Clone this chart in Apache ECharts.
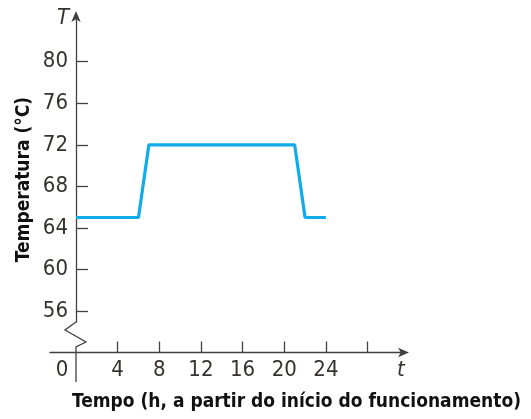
<!DOCTYPE html>
<html><head><meta charset="utf-8">
<script src="https://cdn.jsdelivr.net/npm/echarts@6/dist/echarts.min.js"></script>
<style>html,body{margin:0;padding:0;background:#fff}#c{width:531px;height:419px}</style>
</head><body><div id="c"></div>
<script>
const timeHours = [0, 6, 7, 21, 22, 24];
const temperature = [65, 65, 72, 72, 65, 65];
const xTickValues = [4, 8, 12, 16, 20, 24, 28];
const xLabelValues = [0, 4, 8, 12, 16, 20, 24];
const yTickValues = [56, 60, 64, 68, 72, 76, 80];
const xTitle = 'Tempo (h, a partir do início do funcionamento)';
const yTitle = 'Temperatura (°C)';

const FONT = '"DejaVu Sans Condensed", "Liberation Sans Narrow", sans-serif';
const chart = echarts.init(document.getElementById('c'), null, {renderer: 'canvas'});
const axisColor = '#404040';
const labelColor = '#36322e';

chart.setOption({
  animation: false,
  grid: {left: 50, right: 126, top: 15, bottom: 97, containLabel: false, outerBoundsMode: 'none'},
  xAxis: {
    type: 'value', min: -2.5, max: 31.6,
    axisLine: {onZero: false, lineStyle: {color: axisColor, width: 1.3}, symbol: ['none', 'arrow'], symbolSize: [7, 11], symbolOffset: [0, 4]},
    offset: 30.5,
    splitLine: {show: false},
    axisTick: {inside: true, length: 11, customValues: xTickValues, lineStyle: {color: axisColor, width: 1.3}},
    axisLabel: {
      customValues: xLabelValues, margin: 7, color: labelColor, fontFamily: FONT, fontSize: 22,
      formatter: v => v === 0 ? '{z|0}' : String(v),
      rich: {z: {padding: [0, 28, 0, 0], color: labelColor, fontFamily: FONT, fontSize: 22}}
    },
    name: xTitle, nameLocation: 'middle', nameGap: 40, nameMoveOverlap: false,
    nameTextStyle: {fontFamily: FONT, fontSize: 19, fontWeight: 'bold', color: '#111', padding: [0, 0, 0, 138]}
  },
  yAxis: {
    type: 'value', min: 54.94, max: 84.5,
    offset: -26,
    axisLine: {onZero: false, lineStyle: {color: axisColor, width: 1.3}, symbol: ['none', 'arrow'], symbolSize: [7, 11], symbolOffset: [0, 4]},
    splitLine: {show: false},
    axisTick: {inside: true, length: 12, customValues: yTickValues, lineStyle: {color: axisColor, width: 1.3}},
    axisLabel: {customValues: yTickValues, margin: 8, color: labelColor, fontFamily: FONT, fontSize: 22},
    name: yTitle, nameLocation: 'middle', nameGap: 42, nameRotate: 90, nameMoveOverlap: false,
    nameTextStyle: {fontFamily: FONT, fontSize: 19, fontWeight: 'bold', color: '#111', padding: [0, 22, 0, 0]}
  },
  series: [{
    type: 'line',
    data: timeHours.map((t, i) => [t, temperature[i]]),
    symbol: 'none',
    lineStyle: {color: '#10acea', width: 3.2},
    silent: true
  }],
  graphic: [
    {type: 'polyline', shape: {points: [[76, 322], [65, 330], [86, 342], [76, 347], [76, 382]]}, style: {stroke: axisColor, lineWidth: 1.3, fill: null}},
    {type: 'text', x: 63, y: 18, style: {text: 'T', fontFamily: FONT, fontSize: 22, fontStyle: 'italic', fill: labelColor, align: 'center', verticalAlign: 'middle'}},
    {type: 'text', x: 401, y: 370, style: {text: 't', fontFamily: FONT, fontSize: 22, fontStyle: 'italic', fill: labelColor, align: 'center', verticalAlign: 'middle'}}
  ]
});
</script></body></html>
